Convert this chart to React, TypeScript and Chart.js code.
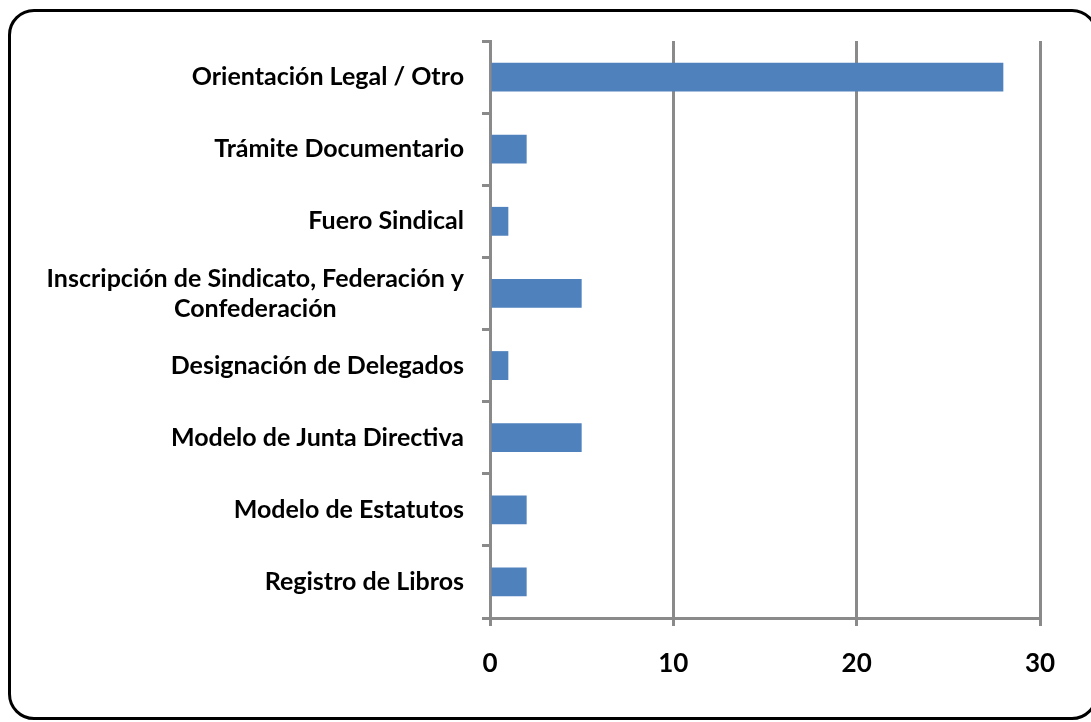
import React, { useEffect, useRef } from "react";
import { Chart, registerables } from "chart.js";

Chart.register(...registerables);

const categories: (string | string[])[] = [
  "Orientación Legal / Otro",
  "Trámite Documentario",
  "Fuero Sindical",
  ["Inscripción de Sindicato, Federación y", "Confederación"],
  "Designación de Delegados",
  "Modelo de Junta Directiva",
  "Modelo de Estatutos",
  "Registro de Libros",
];
const values: number[] = [28, 2, 1, 5, 1, 5, 2, 2];
const xTicks: number[] = [0, 10, 20, 30];

const FONT_FAMILY = "Lato, 'Open Sans', sans-serif";
const Y_FONT_SIZE = 25;
const Y_LINE_HEIGHT = 30;
const GRID = "#8a8a8a";
const TICK_LEN = 8;
const Y_PAD = 18;

const yLabelPlugin = {
  id: "yLabelPlugin",
  afterDraw(chart: any) {
    const scale = chart.scales.y;
    const ctx = chart.ctx;
    ctx.save();
    ctx.font = `bold ${Y_FONT_SIZE}px ${FONT_FAMILY}`;
    ctx.fillStyle = "#000";
    ctx.textBaseline = "middle";
    ctx.textAlign = "center";
    const xRight = scale.right - TICK_LEN - Y_PAD;
    scale.ticks.forEach((_t: any, i: number) => {
      const raw = chart.data.labels[i];
      const lines: string[] = Array.isArray(raw) ? raw : [raw];
      const widest = Math.max(...lines.map((l) => ctx.measureText(l).width));
      const cx = xRight - widest / 2;
      const cy = scale.getPixelForTick(i);
      lines.forEach((line, j) => {
        ctx.fillText(line, cx, cy + (j - (lines.length - 1) / 2) * Y_LINE_HEIGHT);
      });
    });
    ctx.restore();
  },
};

export default function App() {
  const ref = useRef<HTMLCanvasElement>(null);
  useEffect(() => {
    if (!ref.current) return;
    const chart = new Chart(ref.current, {
      type: "bar",
      data: {
        labels: categories as any,
        datasets: [
          {
            data: values,
            backgroundColor: "#4F81BD",
            borderWidth: 0,
            barPercentage: 0.4,
            categoryPercentage: 1,
          },
        ],
      },
      options: {
        indexAxis: "y",
        animation: false,
        responsive: false,
        maintainAspectRatio: false,
        layout: { padding: { left: 0, right: 51, top: 29, bottom: 0 } },
        plugins: { legend: { display: false }, tooltip: { enabled: false } },
        scales: {
          x: {
            min: 0,
            max: 30,
            afterBuildTicks: (scale: any) => {
              scale.ticks = xTicks.map((v) => ({ value: v }));
            },
            afterFit: (scale: any) => {
              scale.height = 104;
            },
            grid: {
              color: GRID,
              lineWidth: 3,
              tickLength: TICK_LEN,
              drawTicks: true,
            },
            border: { display: true, color: GRID, width: 3 },
            ticks: {
              padding: 22,
              color: "#000",
              font: { family: FONT_FAMILY, size: 26, weight: "bold" },
            },
          },
          y: {
            afterFit: (scale: any) => {
              scale.width = 482;
            },
            grid: {
              drawOnChartArea: false,
              drawTicks: true,
              tickLength: TICK_LEN,
              color: GRID,
              lineWidth: 3,
              offset: true,
            },
            border: { display: true, color: GRID, width: 3 },
            ticks: {
              padding: Y_PAD,
              color: "rgba(0,0,0,0)",
              font: { family: FONT_FAMILY, size: Y_FONT_SIZE, weight: "bold" },
            },
          },
        },
      },
      plugins: [yLabelPlugin],
    });
    return () => chart.destroy();
  }, []);

  return (
    <div
      style={{
        position: "fixed",
        left: 0,
        top: 0,
        width: 1091,
        height: 722,
        overflow: "hidden",
        background: "#fff",
      }}
    >
      <div
        style={{
          position: "absolute",
          left: 8,
          top: 9,
          width: 1090,
          height: 711,
          boxSizing: "border-box",
          border: "3px solid #000",
          borderRadius: 26,
        }}
      />
      <canvas
        ref={ref}
        width={1083}
        height={714}
        style={{ position: "absolute", left: 8, top: 8, width: 1083, height: 714 }}
      />
    </div>
  );
}
